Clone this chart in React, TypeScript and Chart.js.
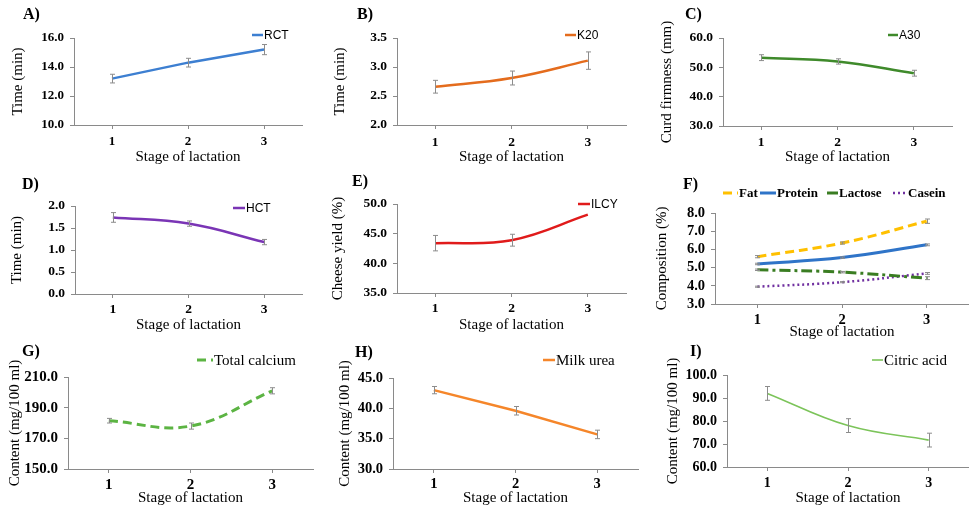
import React, { useEffect, useRef } from "react";
import { Chart, registerables } from "chart.js";

Chart.register(...registerables);
Chart.defaults.font.family = '"Liberation Serif", "Times New Roman", serif';

// ---------- data ----------
const stages = ["1", "2", "3"];

const rctValues = [13.2, 14.3, 15.2];
const rctErrors = [0.3, 0.3, 0.35];

const k20Values = [2.66, 2.81, 3.11];
const k20Errors = [0.11, 0.12, 0.15];

const a30Values = [53.3, 52.0, 48.0];
const a30Errors = [1.0, 0.9, 1.0];

const hctValues = [1.74, 1.6, 1.18];
const hctErrors = [0.11, 0.06, 0.06];

const ilcyValues = [43.4, 43.9, 48.2];
const ilcyErrors = [1.3, 1.0, 0];

const fatValues = [5.6, 6.35, 7.55];
const fatErrors = [0.06, 0.06, 0.12];
const proteinValues = [5.2, 5.55, 6.25];
const proteinErrors = [0.04, 0.04, 0.05];
const lactoseValues = [4.88, 4.75, 4.42];
const lactoseErrors = [0.04, 0.04, 0.08];
const caseinValues = [3.95, 4.2, 4.68];
const caseinErrors = [0.03, 0.03, 0.05];

const calciumValues = [181.5, 178.0, 201.0];
const calciumErrors = [1.5, 2.0, 2.0];

const ureaValues = [43.0, 39.6, 35.7];
const ureaErrors = [0.6, 0.7, 0.7];

const citricValues = [92.0, 78.0, 71.7];
const citricErrors = [3.0, 3.0, 3.0];

// y axis [min, max, step]
const axisA = [10, 16, 2];
const axisB = [2, 3.5, 0.5];
const axisC = [30, 60, 10];
const axisD = [0, 2, 0.5];
const axisE = [35, 50, 5];
const axisF = [3, 8, 1];
const axisG = [150, 210, 20];
const axisH = [30, 45, 5];
const axisI = [60, 100, 10];

const xTitle = "Stage of lactation";

type Series = {
  label: string;
  values: number[];
  errors: number[];
  color: string;
  width: number;
  dash: number[];
  tension: number;
};

type Panel = {
  letter: string;
  canvas: [number, number, number, number];
  plot: [number, number, number, number]; // l t r b (page coords)
  axis: number[];
  yTitle: string;
  tickSize: number;
  xTickPad: number;
  xTitlePad: number;
  yTitlePad: number;
  letterPos: [number, number];
  legendY: number;
  legendFont: string;
  legendX: [number, number][];
  series: Series[];
};

const sansLegend = '12px "Liberation Sans", Arial, sans-serif';

const panels: Panel[] = [
  {
    letter: "A)", canvas: [0, 0, 320, 165], plot: [74, 38, 302, 125], axis: axisA,
    yTitle: "Time (min)", tickSize: 13, xTickPad: 5, xTitlePad: -1, yTitlePad: 9,
    letterPos: [23, 15], legendY: 35, legendFont: sansLegend, legendX: [[252, 263]],
    series: [{ label: "RCT", values: rctValues, errors: rctErrors, color: "#3d7fd1", width: 2.5, dash: [], tension: 0 }],
  },
  {
    letter: "B)", canvas: [320, 0, 320, 165], plot: [397, 38, 626, 125], axis: axisB,
    yTitle: "Time (min)", tickSize: 13.5, xTickPad: 5, xTitlePad: -1, yTitlePad: 11,
    letterPos: [357, 15], legendY: 35, legendFont: sansLegend, legendX: [[565, 576]],
    series: [{ label: "K20", values: k20Values, errors: k20Errors, color: "#e46c1d", width: 2.5, dash: [], tension: 0.4 }],
  },
  {
    letter: "C)", canvas: [640, 0, 329, 165], plot: [723, 38, 952, 126], axis: axisC,
    yTitle: "Curd firmness (mm)", tickSize: 13.5, xTickPad: 4, xTitlePad: -1, yTitlePad: 18,
    letterPos: [685, 15], legendY: 35, legendFont: sansLegend, legendX: [[888, 898]],
    series: [{ label: "A30", values: a30Values, errors: a30Errors, color: "#3f8a2b", width: 2.5, dash: [], tension: 0.4 }],
  },
  {
    letter: "D)", canvas: [0, 165, 320, 170], plot: [75, 206, 302, 294], axis: axisD,
    yTitle: "Time (min)", tickSize: 13.5, xTickPad: 3, xTitlePad: 1, yTitlePad: 8,
    letterPos: [22, 185], legendY: 208, legendFont: sansLegend, legendX: [[233, 245]],
    series: [{ label: "HCT", values: hctValues, errors: hctErrors, color: "#7a35b5", width: 2.5, dash: [], tension: 0.4 }],
  },
  {
    letter: "E)", canvas: [320, 165, 320, 170], plot: [397, 204, 626, 293], axis: axisE,
    yTitle: "Cheese yield (%)", tickSize: 13.5, xTickPad: 3, xTitlePad: 1, yTitlePad: 9,
    letterPos: [352, 182], legendY: 204, legendFont: sansLegend, legendX: [[578, 590]],
    series: [{ label: "ILCY", values: ilcyValues, errors: ilcyErrors, color: "#e01b1b", width: 2.5, dash: [], tension: 0.4 }],
  },
  {
    letter: "F)", canvas: [640, 165, 329, 175], plot: [715, 213, 969, 304], axis: axisF,
    yTitle: "Composition (%)", tickSize: 14.5, xTickPad: 4, xTitlePad: -1, yTitlePad: 13,
    letterPos: [683, 185], legendY: 193, legendFont: 'bold 13px "Liberation Serif", serif',
    legendX: [[723, 738], [760, 776], [827, 838], [893, 907]],
    series: [
      { label: "Fat", values: fatValues, errors: fatErrors, color: "#ffc000", width: 3, dash: [9, 5], tension: 0.4 },
      { label: "Protein", values: proteinValues, errors: proteinErrors, color: "#2f74c8", width: 3, dash: [], tension: 0.4 },
      { label: "Lactose", values: lactoseValues, errors: lactoseErrors, color: "#3a7d22", width: 3, dash: [11, 4, 3, 4], tension: 0.4 },
      { label: "Casein", values: caseinValues, errors: caseinErrors, color: "#7030a0", width: 2.5, dash: [2, 3], tension: 0.4 },
    ],
  },
  {
    letter: "G)", canvas: [0, 335, 320, 173], plot: [68, 377, 313, 469], axis: axisG,
    yTitle: "Content (mg/100 ml)", tickSize: 15, xTickPad: 3, xTitlePad: 1, yTitlePad: 6,
    letterPos: [22, 352], legendY: 360, legendFont: '15px "Liberation Serif", serif', legendX: [[197, 213]],
    series: [{ label: "Total calcium", values: calciumValues, errors: calciumErrors, color: "#5cb443", width: 3, dash: [9, 5], tension: 0.4 }],
  },
  {
    letter: "H)", canvas: [320, 335, 320, 173], plot: [393, 378, 638, 469], axis: axisH,
    yTitle: "Content (mg/100 ml)", tickSize: 14.5, xTickPad: 3, xTitlePad: 1, yTitlePad: 16,
    letterPos: [355, 353], legendY: 360, legendFont: '15px "Liberation Serif", serif', legendX: [[543, 555]],
    series: [{ label: "Milk urea", values: ureaValues, errors: ureaErrors, color: "#f5862a", width: 2.5, dash: [], tension: 0 }],
  },
  {
    letter: "I)", canvas: [640, 335, 329, 173], plot: [727, 375, 969, 467], axis: axisI,
    yTitle: "Content (mg/100 ml)", tickSize: 14, xTickPad: 4, xTitlePad: 1, yTitlePad: 24,
    letterPos: [690, 352], legendY: 360, legendFont: '15px "Liberation Serif", serif', legendX: [[872, 883]],
    series: [{ label: "Citric acid", values: citricValues, errors: citricErrors, color: "#7cc45a", width: 1.6, dash: [], tension: 0.4 }],
  },
];

const AXIS_COLOR = "#8a8a8a";

function makeDecorPlugin(p: Panel, errorsList: number[][]) {
  const [cx, cy] = p.canvas;
  return {
    id: "decor" + p.letter,
    afterDatasetsDraw(chart: any) {
      const ctx = chart.ctx;
      const ys = chart.scales.y;
      ctx.save();
      ctx.strokeStyle = "#8c8c8c";
      ctx.lineWidth = 1;
      ctx.setLineDash([]);
      chart.data.datasets.forEach((ds: any, i: number) => {
        const errs = errorsList[i];
        const meta = chart.getDatasetMeta(i);
        meta.data.forEach((pt: any, j: number) => {
          const e = errs[j];
          if (!e) return;
          const v = ds.data[j];
          const x = Math.round(pt.x) + 0.5;
          const y1 = ys.getPixelForValue(v - e);
          const y2 = ys.getPixelForValue(v + e);
          ctx.beginPath();
          ctx.moveTo(x, y1);
          ctx.lineTo(x, y2);
          ctx.moveTo(x - 2.5, y1);
          ctx.lineTo(x + 2.5, y1);
          ctx.moveTo(x - 2.5, y2);
          ctx.lineTo(x + 2.5, y2);
          ctx.stroke();
        });
      });
      ctx.restore();
    },
    afterDraw(chart: any) {
      const ctx = chart.ctx;
      ctx.save();
      ctx.fillStyle = "#000";
      ctx.textAlign = "left";
      ctx.textBaseline = "middle";
      ctx.font = 'bold 16px "Liberation Serif", serif';
      ctx.fillText(p.letter, p.letterPos[0] - cx, p.letterPos[1] - cy);
      ctx.font = p.legendFont;
      chart.data.datasets.forEach((ds: any, i: number) => {
        const [x1, x2] = p.legendX[i];
        const y = p.legendY - cy;
        ctx.strokeStyle = ds.borderColor;
        ctx.lineWidth = ds.borderWidth;
        ctx.setLineDash(ds.borderDash || []);
        ctx.beginPath();
        ctx.moveTo(x1 - cx, y);
        ctx.lineTo(x2 - cx, y);
        ctx.stroke();
        ctx.setLineDash([]);
        ctx.fillText(ds.label, x2 - cx + 1, y + 1);
      });
      ctx.restore();
    },
  };
}

function PanelChart({ p }: { p: Panel }) {
  const ref = useRef<HTMLCanvasElement | null>(null);
  useEffect(() => {
    if (!ref.current) return;
    const [cx, cy, cw, ch] = p.canvas;
    const [pl, pt, pr, pb] = p.plot;
    const [yMin, yMax, yStep] = p.axis;
    const tickFont = { size: p.tickSize, weight: "bold" as const, family: '"Liberation Serif", serif' };
    const titleFont = { size: 15, weight: "normal" as const, lineHeight: 1.2, family: '"Liberation Serif", serif' };
    const chart = new Chart(ref.current, {
      type: "line",
      data: {
        labels: stages,
        datasets: p.series.map((s) => ({
          label: s.label,
          data: s.values,
          borderColor: s.color,
          backgroundColor: s.color,
          borderWidth: s.width,
          borderDash: s.dash,
          tension: s.tension,
          pointRadius: 0,
          fill: false,
        })),
      },
      options: {
        responsive: false,
        animation: false,
        devicePixelRatio: 1,
        layout: { padding: { left: 0, top: pt - cy, right: cx + cw - pr, bottom: 0 } },
        plugins: { legend: { display: false }, tooltip: { enabled: false }, title: { display: false } },
        scales: {
          x: {
            type: "category",
            offset: true,
            grid: { display: true, drawOnChartArea: false, drawTicks: true, tickLength: 4, color: AXIS_COLOR },
            border: { display: true, color: AXIS_COLOR, width: 1 },
            ticks: { font: tickFont, color: "#000", padding: p.xTickPad, maxRotation: 0, autoSkip: false },
            title: { display: true, text: xTitle, font: titleFont, color: "#000", padding: { top: 0, bottom: p.xTitlePad } },
            afterFit: (s: any) => {
              s.height = cy + ch - pb;
            },
          },
          y: {
            type: "linear",
            min: yMin,
            max: yMax,
            grid: { display: true, drawOnChartArea: false, drawTicks: true, tickLength: 4, color: AXIS_COLOR },
            border: { display: true, color: AXIS_COLOR, width: 1 },
            ticks: {
              stepSize: yStep,
              autoSkip: false,
              font: tickFont,
              color: "#000",
              padding: 6,
              callback: (v: any) => Number(v).toFixed(1),
            },
            title: { display: true, text: p.yTitle, font: titleFont, color: "#000", padding: { top: p.yTitlePad, bottom: 0 } },
            afterFit: (s: any) => {
              s.width = pl - cx;
            },
          },
        },
      },
      plugins: [makeDecorPlugin(p, p.series.map((s) => s.errors))],
    } as any);
    return () => chart.destroy();
  }, [p]);
  const [cx, cy, cw, ch] = p.canvas;
  return (
    <canvas
      ref={ref}
      width={cw}
      height={ch}
      style={{ position: "absolute", left: cx, top: cy, width: cw, height: ch }}
    />
  );
}

export default function App() {
  return (
    <div
      style={{
        position: "absolute",
        left: 0,
        top: 0,
        width: 969,
        height: 508,
        background: "#fff",
        overflow: "hidden",
      }}
    >
      {panels.map((p) => (
        <PanelChart key={p.letter} p={p} />
      ))}
    </div>
  );
}
